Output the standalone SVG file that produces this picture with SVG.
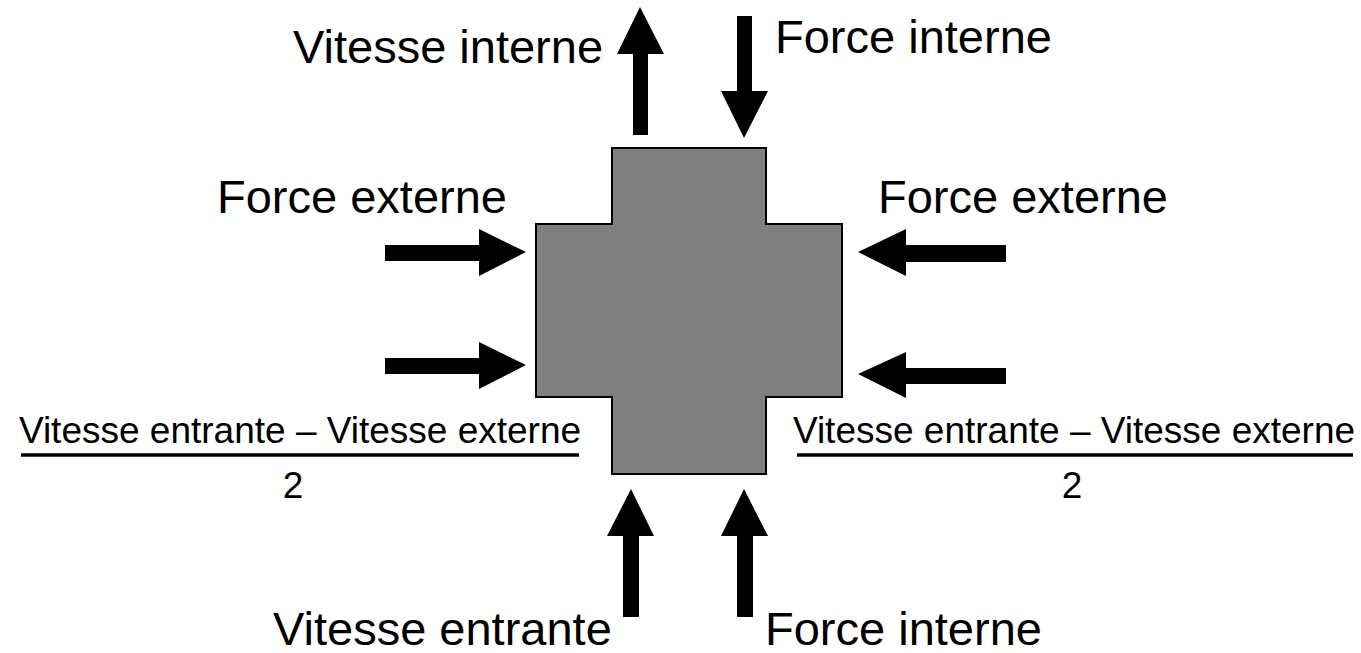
<svg xmlns="http://www.w3.org/2000/svg" width="1361" height="653" viewBox="0 0 1361 653">
<style>
.lbl{font-family:"Liberation Sans",Arial,sans-serif;font-size:47px;fill:#000}
.frac{font-family:"Liberation Sans",Arial,sans-serif;font-size:37px;fill:#000}
.arrow{fill:#000}
.bar{stroke:#000;stroke-width:3.5}
</style>
<rect width="1361" height="653" fill="#fff"/>
<g id="cross">
<polygon points="612,148 766,148 766,224 842,224 842,397 766,397 766,474 612,474 612,397 536,397 536,224 612,224" fill="#808080" stroke="#000" stroke-width="2"/>
</g>
<g id="connectors">
<polygon class="arrow" points="633,135 633,54 617,54 640,7 664,54 648,54 648,135"/>
<polygon class="arrow" points="737,16 752,16 752,91 768,91 744,138 721,91 737,91"/>
<polygon class="arrow" points="385,245 479,245 479,229 526,252 479,276 479,261 385,261"/>
<polygon class="arrow" points="385,358 479,358 479,342 526,365 479,389 479,374 385,374"/>
<polygon class="arrow" points="1006,245 906,245 906,229 858,252 906,276 906,262 1006,262"/>
<polygon class="arrow" points="1006,368 906,368 906,352 858,374 906,398 906,384 1006,384"/>
<polygon class="arrow" points="623,617 623,536 607,536 631,489 654,536 639,536 639,617"/>
<polygon class="arrow" points="737,617 737,536 721,536 744,489 768,536 753,536 753,617"/>
</g>
<g id="label-vitesse-interne"><text class="lbl" x="293" y="63">Vitesse interne</text></g>
<g id="label-force-interne-top"><text class="lbl" x="775" y="53">Force interne</text></g>
<g id="label-force-externe-left"><text class="lbl" x="217" y="213">Force externe</text></g>
<g id="label-force-externe-right"><text class="lbl" x="878" y="213">Force externe</text></g>
<g id="label-vitesse-entrante"><text class="lbl" x="273" y="645">Vitesse entrante</text></g>
<g id="label-force-interne-bottom"><text class="lbl" x="765" y="645">Force interne</text></g>
<g id="fraction-left">
<text class="frac" x="300" y="443" text-anchor="middle">Vitesse entrante – Vitesse externe</text>
<line class="bar" x1="21" y1="455" x2="579" y2="455"/>
<text class="frac" x="293" y="498" text-anchor="middle">2</text>
</g>
<g id="fraction-right">
<text class="frac" x="1074" y="443" text-anchor="middle">Vitesse entrante – Vitesse externe</text>
<line class="bar" x1="797" y1="455" x2="1353" y2="455"/>
<text class="frac" x="1072" y="498" text-anchor="middle">2</text>
</g>
</svg>
